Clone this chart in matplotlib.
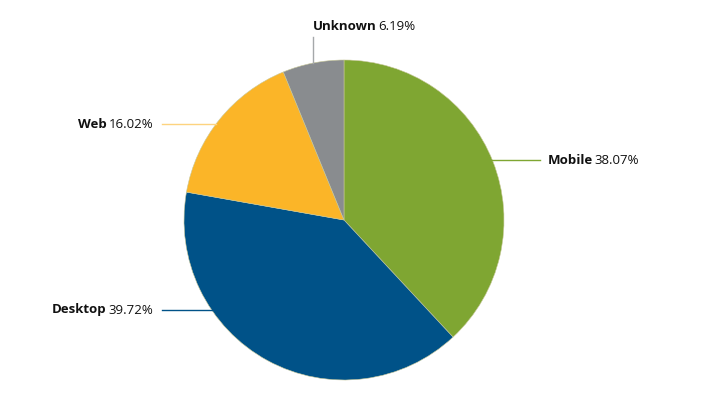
import numpy as np
import matplotlib
matplotlib.use('Agg')
from matplotlib import pyplot as plt
from matplotlib.offsetbox import TextArea, HPacker, AnnotationBbox

plt.rcParams['font.family'] = ['Open Sans', 'DejaVu Sans']

# data
labels = ['Mobile', 'Desktop', 'Web', 'Unknown']
shares = [38.07, 39.72, 16.02, 6.19]
colors = ['#7fa632', '#005288', '#fbb528', '#898c8f']
line_colors = ['#7fa632', '#005288', '#fdd37f', '#a5a8aa']

W, H = 704, 403
cx, cy, R = 344, H - 220, 160

fig = plt.figure(figsize=(W / 100, H / 100), dpi=100)
ax = fig.add_axes([0, 0, 1, 1])

ax.pie(shares, colors=colors, startangle=90, counterclock=False,
       center=(cx, cy), radius=R, frame=True,
       wedgeprops=dict(linewidth=0.4, edgecolor='#c8c89a'))
ax.set_xlim(0, W)
ax.set_ylim(0, H)
ax.set_aspect('equal')
ax.axis('off')

# label layout: (side, label y in px from top, text x)
layout = {
    'Mobile': ('right', 160, 548),
    'Desktop': ('left', 310, 153),
    'Web': ('left', 124, 153),
    'Unknown': ('top', 313, 27),
}

def label_box(name, val):
    a = TextArea(name, textprops=dict(fontsize=9.5, fontweight='bold', color='#111111'))
    b = TextArea(f'{val:.2f}%', textprops=dict(fontsize=9.5, color='#111111'))
    return HPacker(children=[a, b], pad=0, sep=1, align='baseline')

for name, val, lc in zip(labels, shares, line_colors):
    side, p, q = layout[name]
    box = label_box(name, val)
    if side == 'right':
        y = H - p
        xe = cx + np.sqrt(R**2 - (y - cy)**2)
        ax.plot([xe, q - 8], [y, y], color=lc, lw=1)
        ab = AnnotationBbox(box, (q, y), box_alignment=(0, 0.5), frameon=False, pad=0)
    elif side == 'left':
        y = H - p
        xe = cx - np.sqrt(R**2 - (y - cy)**2)
        ax.plot([q + 9, xe], [y, y], color=lc, lw=1)
        ab = AnnotationBbox(box, (q, y), box_alignment=(1, 0.5), frameon=False, pad=0)
    else:
        x = p
        ye = cy + np.sqrt(R**2 - (x - cx)**2)
        ax.plot([x, x], [ye, H - 37], color=lc, lw=1)
        ab = AnnotationBbox(box, (x, H - q), box_alignment=(0, 0.5), frameon=False, pad=0)
    ax.add_artist(ab)

fig.savefig('out.png', dpi=100, facecolor='white')
